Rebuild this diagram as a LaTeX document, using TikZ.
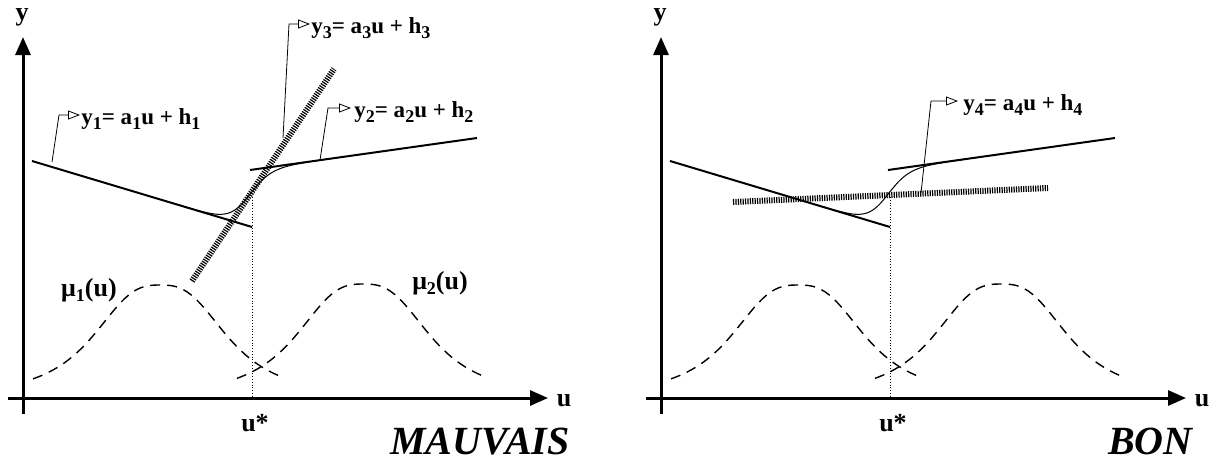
\documentclass[tikz,border=0pt]{standalone}
\usepackage{fontspec}
\setmainfont{Liberation Serif}
\usetikzlibrary{arrows.meta}
\newcommand\lowsub[1]{\raisebox{-2.6pt}{\fontsize{9}{10}\selectfont #1}}
\begin{document}
\begin{tikzpicture}[x=0.5pt,y=-0.5pt,font=\bfseries,
 axis/.style={line width=1.5pt,-{Triangle[length=9pt,width=7.5pt]}},
 seg/.style={line width=1pt},
 hatch/.style={line width=3pt,dash pattern=on 0.6pt off 0.6pt},
 bell/.style={line width=0.7pt,dash pattern=on 5pt off 3.5pt},
 blend/.style={line width=0.5pt},
 lead/.style={line width=0.4pt,-{Triangle[open,length=6pt,width=4.5pt]}},
 eq/.style={font=\fontsize{11.5}{13}\selectfont\bfseries,anchor=base west,inner sep=0pt},
 lab/.style={font=\fontsize{13}{15}\selectfont\bfseries,inner sep=1pt},
 verdict/.style={font=\fontsize{20}{24}\selectfont\bfseries\itshape,anchor=base east,inner sep=0pt}]
\useasboundingbox (0,0) rectangle (1218,461);
\foreach \dx/\nm in {0/L,638/R}{
  \draw[axis] (\dx+23,414) -- (\dx+23,37);
  \draw[axis] (\dx+8,398) -- (\dx+548,398);
  \node[lab] (ylab\nm) at (\dx+22,17) {y};
  \node[lab] (ulab\nm) at (\dx+564,401) {u};
  \node[lab] (ustar\nm) at (\dx+255,423) {u*};
  \draw[densely dotted,line width=0.4pt] (\dx+252,197) -- (\dx+252,398);
  \draw[seg] (\dx+32,161) -- (\dx+252,227);
  \draw[seg] (\dx+250,170) -- (\dx+477,138);
  \draw[blend] plot[domain=\dx+180:\dx+335,samples=80]
    (\x,{(161+0.3*(\x-\dx-32))+(1/(1+exp(-(\x-\dx-247)/10.5)))*((170-0.141*(\x-\dx-250))-(161+0.3*(\x-\dx-32)))});
  \draw[bell] plot[domain=\dx+33:\dx+283,samples=61] (\x,{398-113/(1+((abs(\x-\dx-160)+0.01)/72)^2.8)});
  \draw[bell] plot[domain=\dx+237:\dx+485,samples=61] (\x,{398-114/(1+((abs(\x-\dx-363)+0.01)/72)^2.8)});
}
\draw[hatch] (192,281) -- (334,69);
\draw[hatch] (733,202) -- (1048,188);
\node[lab] (mu1) at (89,290) {μ\lowsub{1}(u)};
\node[lab] (mu2) at (440,283) {μ\lowsub{2}(u)};
\node[eq] (y1) at (81,124) {y\lowsub{1}= a\lowsub{1}u + h\lowsub{1}};
\node[eq] (y3) at (311,33) {y\lowsub{3}= a\lowsub{3}u + h\lowsub{3}};
\node[eq] (y2) at (354,117) {y\lowsub{2}= a\lowsub{2}u + h\lowsub{2}};
\node[eq] (y4) at (963,110) {y\lowsub{4}= a\lowsub{4}u + h\lowsub{4}};
\coordinate (p1) at (52,162);
\coordinate (p3) at (283,138);
\coordinate (p2) at (320,160);
\coordinate (p4) at (921,193);
\draw[lead] (p1) -- ([shift={(-11pt,4.5pt)}]y1.base west) -- ([shift={(-0.5pt,4.5pt)}]y1.base west);
\draw[lead] (p3) -- ([shift={(-11pt,4.5pt)}]y3.base west) -- ([shift={(-0.5pt,4.5pt)}]y3.base west);
\draw[lead] (p2) -- ([shift={(-13pt,4.5pt)}]y2.base west) -- ([shift={(-1.5pt,4.5pt)}]y2.base west);
\draw[lead] (p4) -- ([shift={(-16pt,4.5pt)}]y4.base west) -- ([shift={(-2.5pt,4.5pt)}]y4.base west);
\node[verdict] (bad) at (570,454) {MAUVAIS};
\node[verdict] (good) at (1193,454) {BON};
\end{tikzpicture}
\end{document}
